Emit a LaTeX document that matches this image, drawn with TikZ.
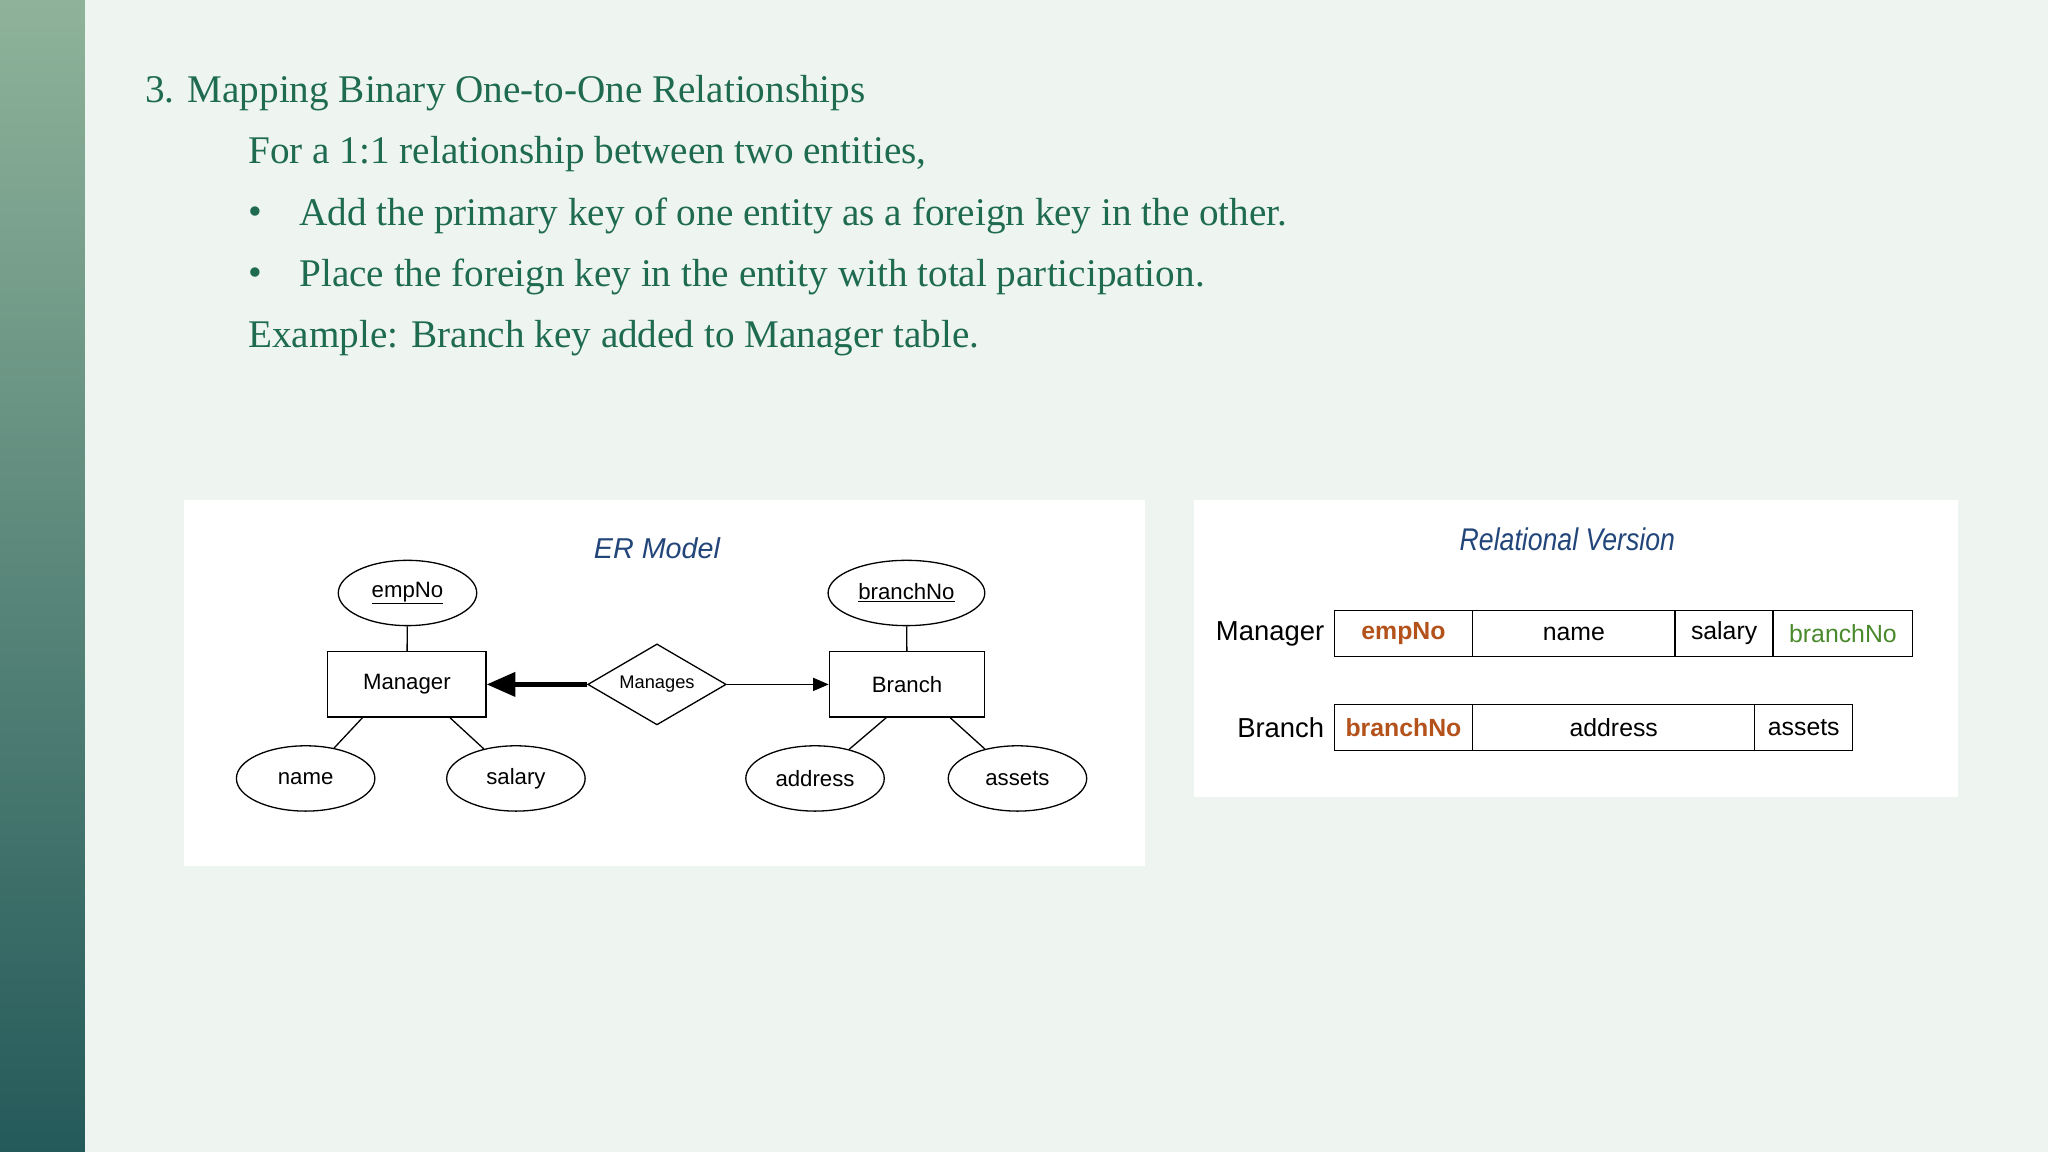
\documentclass[tikz,border=0pt]{standalone}
\usepackage{fontspec}
\setmainfont{Liberation Serif}
\setsansfont{Liberation Sans}
\usetikzlibrary{shapes.geometric,arrows.meta}
\definecolor{bg}{HTML}{EEF5F1}
\definecolor{txt}{HTML}{1F6B52}
\definecolor{erblue}{HTML}{22457A}
\definecolor{keyor}{HTML}{B4521C}
\definecolor{keygr}{HTML}{4A8A2C}
\definecolor{bartop}{HTML}{8FB39A}
\definecolor{barbot}{HTML}{245A5A}
\tikzset{
 slide/.style={font=\fontsize{30}{36}\selectfont, text=txt, anchor=west, inner sep=0},
 attr/.style={ellipse, draw, line width=1pt, minimum width=106pt, minimum height=50pt, inner sep=0, font=\sffamily\fontsize{17}{20}\selectfont},
 ent/.style={rectangle, draw, line width=1pt, minimum width=121pt, minimum height=50pt, inner sep=0, font=\sffamily\fontsize{17}{20}\selectfont},
 cell/.style={rectangle, draw, line width=1pt, minimum height=35pt, inner sep=0, anchor=west, font=\sffamily\fontsize{19}{22}\selectfont},
 rlab/.style={anchor=east, inner sep=0, font=\sffamily\fontsize{21}{24}\selectfont},
 conn/.style={line width=1pt},
}
\begin{document}
\begin{tikzpicture}[x=1pt,y=-1pt]
\fill[bg] (0,0) rectangle (1568,882);
\shade[top color=bartop, bottom color=barbot] (0,0) rectangle (65,882);
\node[slide] (t1) at (111,71) {3. Mapping Binary One-to-One Relationships};
\node[slide] (t2) at (190,118) {For a 1:1 relationship between two entities,};
\node[slide] (b1) at (190,165) {\textbullet};
\node[slide] (t3) at (229,165) {Add the primary key of one entity as a foreign key in the other.};
\node[slide] (b2) at (190,212) {\textbullet};
\node[slide] (t4) at (229,212) {Place the foreign key in the entity with total participation.};
\node[slide] (t5) at (190,259) {Example: Branch key added to Manager table.};
% ER panel
\fill[white] (141,383) rectangle (877,663);
\node[font=\sffamily\itshape\fontsize{22}{26}\selectfont, text=erblue] (ert) at (503,420) {ER Model};
\node[attr] (empno) at (312,454) {\underline{empNo}};
\node[attr, minimum width=120pt] (brno) at (694,454) {\underline{branchNo}};
\node[ent] (mgr) at (311.5,524) {Manager};
\node[ent, minimum width=119pt] (br) at (694.5,524) {Branch};
\node[diamond, draw, line width=1pt, aspect=1.7, minimum width=106pt, minimum height=62pt, inner sep=0, font=\sffamily\fontsize{14}{16}\selectfont] (man) at (503,524) {Manages};
\node[attr] (name) at (234,596) {name};
\node[attr] (sal) at (395,596) {salary};
\node[attr] (addr) at (624,596) {address};
\node[attr] (ass) at (779,596) {assets};
\draw[conn] (empno) -- (mgr);
\draw[conn] (brno) -- (br);
\draw[conn] ([xshift=-34pt]mgr.south) -- (name);
\draw[conn] ([xshift=33pt]mgr.south) -- (sal);
\draw[conn] ([xshift=-16pt]br.south) -- (addr);
\draw[conn] ([xshift=33pt]br.south) -- (ass);
\draw[line width=4pt, -{Triangle[length=22pt,width=18pt]}] (man.west) -- (mgr.east);
\draw[conn, -{Triangle[length=12pt,width=10pt]}] (man.east) -- (br.west);
% Relational panel
\fill[white] (914,383) rectangle (1499,610);
\node[font=\sffamily\itshape\fontsize{24}{28}\selectfont, text=erblue, xscale=0.85] (rvt) at (1200,413) {Relational Version};
\node[rlab] (mlab) at (1014,485) {Manager};
\node[cell, minimum width=106pt, text=keyor, font=\sffamily\bfseries\fontsize{19}{22}\selectfont] (m1) at (1021,485) {empNo};
\node[cell, minimum width=155pt] (m2) at (1127,485) {name};
\node[cell, minimum width=75pt] (m3) at (1282,485) {salary};
\node[cell, minimum width=107pt, text=keygr] (m4) at (1357,485) {branchNo};
\node[rlab] (blab) at (1014,557) {Branch};
\node[cell, minimum width=106pt, text=keyor, font=\sffamily\bfseries\fontsize{19}{22}\selectfont] (r1) at (1021,557) {branchNo};
\node[cell, minimum width=216pt] (r2) at (1127,557) {address};
\node[cell, minimum width=75pt] (r3) at (1343,557) {assets};
\end{tikzpicture}
\end{document}
